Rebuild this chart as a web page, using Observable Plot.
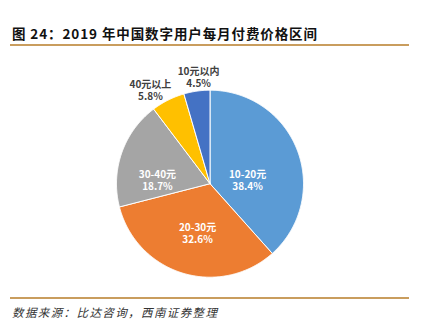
<!DOCTYPE html>
<html><head><meta charset="utf-8">
<script src="https://cdn.jsdelivr.net/npm/d3@7"></script>
<script src="https://cdn.jsdelivr.net/npm/@observablehq/plot@0.6"></script>
<style>
body{margin:0;background:#fff;}
#wrap{position:relative;width:423px;height:331px;overflow:hidden;font-family:"Noto Sans CJK SC","Noto Sans",sans-serif;}
#title{position:absolute;left:12px;top:23px;font-size:13.5px;font-weight:bold;color:#111;letter-spacing:0.9px;white-space:nowrap;line-height:20px;}
.rule{position:absolute;left:10px;width:399px;height:2px;background:#C99D5E;}
#foot{position:absolute;left:12px;top:303px;font-size:11.5px;font-style:italic;color:#333;letter-spacing:1.4px;white-space:nowrap;line-height:18px;}
#chart{position:absolute;left:0;top:50px;}
</style></head>
<body><div id="wrap">
<div id="title">图 24：2019 年中国数字用户每月付费价格区间</div>
<div class="rule" style="top:44px"></div>
<div id="chart"></div>
<div class="rule" style="top:297px"></div>
<div id="foot">数据来源：比达咨询，西南证券整理</div>
</div>
<script>
const categories = ["10-20元", "20-30元", "30-40元", "40元以上", "10元以内"];
const shares = [38.4, 32.6, 18.7, 5.8, 4.5];
const colors = ["#5B9BD5", "#ED7D31", "#A5A5A5", "#FFC000", "#4472C4"];

// layout
const W = 423, H = 240, cx = 209.5, cy = 133.2, R = 93.5;
const total = d3.sum(shares);
let acc = 0;
const slices = categories.map((c, i) => {
  const a0 = acc / total * 2 * Math.PI;
  acc += shares[i];
  const a1 = acc / total * 2 * Math.PI;
  return {cat: c, value: shares[i], a0, a1, mid: (a0 + a1) / 2, i};
});
const poly = [];
for (const s of slices) {
  poly.push({cat: s.cat, x: 0, y: 0});
  const n = Math.max(2, Math.ceil((s.a1 - s.a0) / (Math.PI / 360)));
  for (let k = 0; k <= n; k++) {
    const a = s.a0 + (s.a1 - s.a0) * k / n;
    poly.push({cat: s.cat, x: Math.sin(a), y: Math.cos(a)});
  }
  poly.push({cat: s.cat, x: 0, y: 0});
}
const inside = [true, true, true, false, false];
const nudge = [[-10.5, 15], [2.5, 1], [-4, 14], [-10.5, 5], [4, 2.6]];
const labelMarks = [];
slices.forEach((s, i) => {
  const r = inside[i] ? 0.55 : 1.17;
  const common = {
    x: d => Math.sin(d.mid) * r,
    y: d => Math.cos(d.mid) * r,
    dx: nudge[i][0],
    fill: inside[i] ? "#ffffff" : "#404040",
    fontSize: 10, fontWeight: "bold",
    fontFamily: "'Noto Sans CJK SC', sans-serif",
    textAnchor: "middle"
  };
  labelMarks.push(Plot.text([s], {...common, text: d => d.cat, dy: nudge[i][1] - 6}));
  labelMarks.push(Plot.text([s], {...common, text: d => `${d.value.toFixed(1)}%`, dy: nudge[i][1] + 6}));
});

const plot = Plot.plot({
  width: W, height: H,
  margin: 0,
  x: {domain: [-cx / R, (W - cx) / R], range: [0, W], axis: null},
  y: {domain: [-(H - cy) / R, cy / R], range: [H, 0], axis: null},
  color: {domain: categories, range: colors},
  marks: [
    Plot.line(poly, {x: "x", y: "y", z: "cat", fill: "cat", stroke: "#ffffff", strokeWidth: 1, strokeLinejoin: "round"}),
    ...labelMarks
  ]
});
document.getElementById("chart").appendChild(plot);
</script>
</body></html>
